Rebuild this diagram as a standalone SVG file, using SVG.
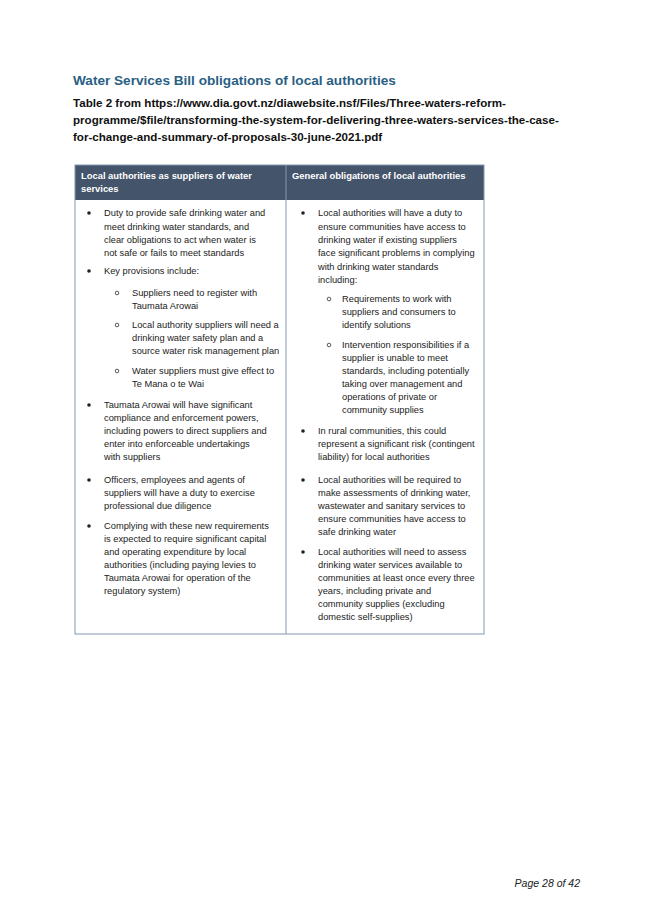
<svg xmlns="http://www.w3.org/2000/svg" width="645" height="919" viewBox="0 0 645 919">
<style>
.t{font-family:"Liberation Sans",Arial,sans-serif;font-size:9.3px;fill:#222}
.h{font-family:"Liberation Sans",Arial,sans-serif;font-size:9.4px;font-weight:bold;fill:#fff}
.s{font-family:"Liberation Sans",Arial,sans-serif;font-size:11.6px;font-weight:bold;fill:#111}
.b{fill:#222}
.o{fill:none;stroke:#333;stroke-width:0.8}
</style>
<rect width="645" height="919" fill="#fff"/>
<text x="73" y="85" style="font-family:'Liberation Sans',Arial,sans-serif;font-size:13.6px;font-weight:bold;fill:#2a6084">Water Services Bill obligations of local authorities</text>
<text class="s" x="73" y="107">Table 2 from https://www.dia.govt.nz/diawebsite.nsf/Files/Three-waters-reform-</text>
<text class="s" x="73" y="124">programme/$file/transforming-the-system-for-delivering-three-waters-services-the-case-</text>
<text class="s" x="73" y="141">for-change-and-summary-of-proposals-30-june-2021.pdf</text>
<g id="table">
<rect x="75" y="165" width="409" height="35" fill="#44546a"/>
<rect x="75" y="165" width="409" height="469" fill="none" stroke="#8496b0" stroke-width="1"/>
<line x1="286" y1="165" x2="286" y2="634" stroke="#8496b0"/>
<text class="h" x="81" y="179">Local authorities as suppliers of water</text>
<text class="h" x="81" y="192">services</text>
<text class="h" x="292" y="179">General obligations of local authorities</text>
</g>
<g id="left">
<circle class="b" cx="89" cy="213" r="1.8"/><circle class="b" cx="89" cy="271" r="1.8"/><circle class="b" cx="89" cy="405" r="1.8"/><circle class="b" cx="89" cy="480" r="1.8"/><circle class="b" cx="89" cy="526" r="1.8"/>
<circle class="o" cx="117" cy="293" r="1.8"/><circle class="o" cx="117" cy="325" r="1.8"/><circle class="o" cx="117" cy="371" r="1.8"/>
<text class="t" x="104" y="216">Duty to provide safe drinking water and</text>
<text class="t" x="104" y="230">meet drinking water standards, and</text>
<text class="t" x="104" y="243">clear obligations to act when water is</text>
<text class="t" x="104" y="256">not safe or fails to meet standards</text>
<text class="t" x="104" y="274">Key provisions include:</text>
<text class="t" x="132" y="296">Suppliers need to register with</text>
<text class="t" x="132" y="309">Taumata Arowai</text>
<text class="t" x="132" y="328">Local authority suppliers will need a</text>
<text class="t" x="132" y="341">drinking water safety plan and a</text>
<text class="t" x="132" y="354">source water risk management plan</text>
<text class="t" x="132" y="374">Water suppliers must give effect to</text>
<text class="t" x="132" y="387">Te Mana o te Wai</text>
<text class="t" x="104" y="408">Taumata Arowai will have significant</text>
<text class="t" x="104" y="421">compliance and enforcement powers,</text>
<text class="t" x="104" y="434">including powers to direct suppliers and</text>
<text class="t" x="104" y="447">enter into enforceable undertakings</text>
<text class="t" x="104" y="460">with suppliers</text>
<text class="t" x="104" y="483">Officers, employees and agents of</text>
<text class="t" x="104" y="496">suppliers will have a duty to exercise</text>
<text class="t" x="104" y="509">professional due diligence</text>
<text class="t" x="104" y="529">Complying with these new requirements</text>
<text class="t" x="104" y="542">is expected to require significant capital</text>
<text class="t" x="104" y="555">and operating expenditure by local</text>
<text class="t" x="104" y="568">authorities (including paying levies to</text>
<text class="t" x="104" y="581">Taumata Arowai for operation of the</text>
<text class="t" x="104" y="594">regulatory system)</text>
</g>
<g id="right">
<circle class="b" cx="303" cy="213" r="1.8"/><circle class="b" cx="303" cy="431" r="1.8"/><circle class="b" cx="303" cy="480" r="1.8"/><circle class="b" cx="303" cy="552" r="1.8"/>
<circle class="o" cx="329" cy="299" r="1.8"/><circle class="o" cx="329" cy="345" r="1.8"/>
<text class="t" x="318" y="216">Local authorities will have a duty to</text>
<text class="t" x="318" y="230">ensure communities have access to</text>
<text class="t" x="318" y="243">drinking water if existing suppliers</text>
<text class="t" x="318" y="256">face significant problems in complying</text>
<text class="t" x="318" y="270">with drinking water standards</text>
<text class="t" x="318" y="283">including:</text>
<text class="t" x="342" y="302">Requirements to work with</text>
<text class="t" x="342" y="315">suppliers and consumers to</text>
<text class="t" x="342" y="328">identify solutions</text>
<text class="t" x="342" y="348">Intervention responsibilities if a</text>
<text class="t" x="342" y="361">supplier is unable to meet</text>
<text class="t" x="342" y="374">standards, including potentially</text>
<text class="t" x="342" y="387">taking over management and</text>
<text class="t" x="342" y="400">operations of private or</text>
<text class="t" x="342" y="413">community supplies</text>
<text class="t" x="318" y="434">In rural communities, this could</text>
<text class="t" x="318" y="447">represent a significant risk (contingent</text>
<text class="t" x="318" y="460">liability) for local authorities</text>
<text class="t" x="318" y="483">Local authorities will be required to</text>
<text class="t" x="318" y="496">make assessments of drinking water,</text>
<text class="t" x="318" y="509">wastewater and sanitary services to</text>
<text class="t" x="318" y="522">ensure communities have access to</text>
<text class="t" x="318" y="535">safe drinking water</text>
<text class="t" x="318" y="555">Local authorities will need to assess</text>
<text class="t" x="318" y="568">drinking water services available to</text>
<text class="t" x="318" y="581">communities at least once every three</text>
<text class="t" x="318" y="594">years, including private and</text>
<text class="t" x="318" y="607">community supplies (excluding</text>
<text class="t" x="318" y="620">domestic self-supplies)</text>
</g>
<text x="580" y="887" text-anchor="end" style="font-family:'Liberation Sans',Arial,sans-serif;font-size:10.5px;font-style:italic;fill:#222">Page 28 of 42</text>
</svg>
